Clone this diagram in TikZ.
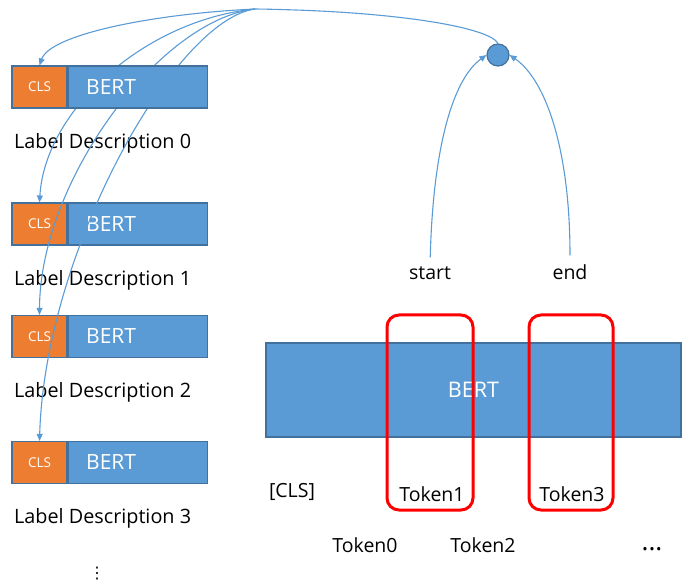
\documentclass[tikz,border=0pt]{standalone}
\usepackage{fontspec}
\setmainfont{Open Sans}
\newfontfamily\symfont{DejaVu Sans}
\usetikzlibrary{arrows.meta}
\pgfdeclarelayer{back}
\pgfdeclarelayer{front}
\pgfsetlayers{back,main,front}

\definecolor{bertblue}{RGB}{91,155,213}
\definecolor{bertedge}{RGB}{65,113,156}
\definecolor{clsorange}{RGB}{237,125,49}

\tikzset{
  clsbox/.style={draw=bertedge, fill=clsorange, line width=1.2pt, minimum width=55pt,
    minimum height=42pt, inner sep=0pt, text=white, font=\fontsize{13.5}{14}\selectfont},
  bertbox/.style={draw=bertedge, fill=bertblue, line width=1.2pt, minimum height=42pt,
    text width=103pt, inner xsep=18pt, inner ysep=0pt, align=left, text=white,
    font=\fontsize{21}{21}\selectfont},
  desc/.style={font=\fontsize{19.8}{20}\selectfont, anchor=west, inner sep=0pt},
  tok/.style={font=\fontsize{19.5}{20}\selectfont, inner sep=0pt},
  link/.style={draw=bertblue, line width=1.1pt},
  linkarrow/.style={link, -{Triangle[length=7pt,width=6pt]}},
  pick/.style={draw=red, line width=3pt, rounded corners=12pt, minimum height=195pt},
}

\begin{document}
\begin{tikzpicture}[x=1pt,y=-1pt]
    \useasboundingbox (0,0) rectangle (688,585);

    % label encoders (left column)
    \begin{pgfonlayer}{back}
    \foreach \i/\y in {1/224,2/336.5,3/462.5} {
        \node[clsbox] (cls\i) at (39.5,\y) {CLS};
        \node[bertbox, anchor=west] (bert\i) at (cls\i.east) {BERT};
    }
    \end{pgfonlayer}
    \begin{pgfonlayer}{front}
    \node[clsbox] (cls0) at (39.5,87) {CLS};
    \node[bertbox, anchor=west] (bert0) at (cls0.east) {BERT};
    \end{pgfonlayer}
    \foreach \i/\y in {0/87,1/224,2/336.5,3/462.5}
        \node[desc] (desc\i) at (14,\y+56) {Label Description \i};
    \node[font=\symfont\fontsize{16}{16}\selectfont, inner sep=0pt] (vdots) at (97,574) {⋮};

    % token encoder (right)
    \node[draw=bertedge, fill=bertblue, line width=1.2pt, minimum width=415pt,
      minimum height=94pt, text=white, font=\fontsize{21.5}{22}\selectfont] (bert) at (473.5,390) {BERT};
    \node[pick, minimum width=86pt] (pick1) at (430,412.5) {};
    \node[pick, minimum width=84pt] (pick3) at (571,412.5) {};

    \node[tok] (cls) at (292,492) {[CLS]};
    \node[tok] (tok1) at (432,494) {Token1};
    \node[tok] (tok3) at (572,494) {Token3};
    \node[tok] (tok0) at (365,545) {Token0};
    \node[tok] (tok2) at (483,545) {Token2};
    \node[tok, font=\fontsize{26}{26}\selectfont] (more) at (652,549) {...};

    \node[tok] (start) at (430,273) {start};
    \node[tok] (end) at (570,272) {end};

    % span score
    \node[circle, draw=bertedge, fill=bertblue, line width=1.2pt, minimum size=22pt,
      inner sep=0pt] (sum) at (498,55) {};
    \draw[linkarrow, shorten <=9pt] (start.north) .. controls (433,150) and (452,80) .. (sum.west);
    \draw[linkarrow, shorten <=9pt] (end.north) .. controls (570,150) and (546,80) .. (sum.east);

    % similarity to every label
    \coordinate (hub) at (255,9);
    \draw[link] (sum.north) .. controls (490,28) and (400,11) .. (hub);
    \draw[linkarrow] (hub) .. controls (150,14) and (50,35) .. (cls0.north);
    \draw[linkarrow] (hub) .. controls (145,20) and (45,110) .. (cls1.north);
    \draw[linkarrow] (hub) .. controls (160,20) and (40,180) .. (cls2.north);
    \draw[linkarrow] (hub) .. controls (175,20) and (45,250) .. (cls3.north);
\end{tikzpicture}
\end{document}
